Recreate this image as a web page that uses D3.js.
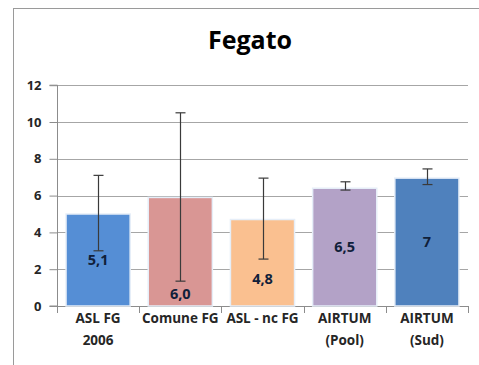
<!DOCTYPE html>
<html><head><meta charset="utf-8">
<script src="https://cdn.jsdelivr.net/npm/d3@7"></script>
<style>
html,body{margin:0;padding:0;background:#fff;}
svg{display:block;}
</style></head>
<body>
<script>
const categories = [["ASL FG","2006"],["Comune FG"],["ASL - nc FG"],["AIRTUM","(Pool)"],["AIRTUM","(Sud)"]];
const values = [5.0, 5.9, 4.7, 6.4, 6.95];
const errLow = [3.0, 1.35, 2.55, 6.3, 6.6];
const errHigh = [7.1, 10.5, 6.95, 6.75, 7.45];
const valueLabels = ["5,1","6,0","4,8","6,5","7"];
const yTicks = [0,2,4,6,8,10,12];
const title = "Fegato";
const colors = ["#558ed5","#d99694","#fac090","#b3a2c7","#4f81bd"];

const W = 479, H = 365;
const svg = d3.select("body").append("svg").attr("width", W).attr("height", H);
const font = "'Open Sans', sans-serif";

// frame
svg.append("rect").attr("x",13.5).attr("y",8.5).attr("width",W).attr("height",H)
  .attr("fill","#fff").attr("stroke","#9a9a9a").attr("stroke-width",1);

const x0 = 57, x1 = 468, y0 = 306, yTop = 85.2;
const x = d3.scaleBand().domain(d3.range(categories.length)).range([x0, x1]).paddingInner(0.22).paddingOuter(0.11);
const y = d3.scaleLinear().domain([0,12]).range([y0, yTop]);

// gridlines
svg.append("g").selectAll("line").data(yTicks.filter(d=>d>0)).join("line")
  .attr("x1",x0).attr("x2",x1).attr("y1",d=>Math.round(y(d))+0.5).attr("y2",d=>Math.round(y(d))+0.5)
  .attr("stroke","#a6a6a6").attr("stroke-width",1);

// y axis
const yAxis = d3.axisLeft(y).tickValues(yTicks).tickSize(8).tickPadding(8).tickFormat(d3.format("d"));
const gy = svg.append("g").attr("transform",`translate(${x0+0.5},0)`).call(yAxis);
gy.select(".domain").attr("stroke","#8c8c8c").attr("d",`M-8,${y0}H0V${yTop}H-8`);
gy.selectAll(".tick line").attr("stroke","#8c8c8c");
gy.selectAll(".tick text").attr("font-family",font).attr("font-weight","bold").attr("font-size",13).attr("fill","#262626");

// x axis baseline and ticks
const xb = svg.append("g");
xb.append("line").attr("x1",x0).attr("x2",x1).attr("y1",y0+0.5).attr("y2",y0+0.5).attr("stroke","#8c8c8c");
xb.selectAll("line.t").data(d3.range(categories.length+1)).join("line").attr("class","t")
  .attr("x1",i=>Math.round(x0 + i*(x1-x0)/categories.length)+0.5)
  .attr("x2",i=>Math.round(x0 + i*(x1-x0)/categories.length)+0.5)
  .attr("y1",y0).attr("y2",y0+7).attr("stroke","#8c8c8c");

// bars
svg.append("g").selectAll("rect").data(values).join("rect")
  .attr("x",(d,i)=>x(i)).attr("width",x.bandwidth())
  .attr("y",d=>y(d)).attr("height",d=>y(0)-y(d))
  .attr("fill",(d,i)=>colors[i]).attr("stroke","#e6eef8").attr("stroke-width",1.5);

// error bars
const eg = svg.append("g").attr("stroke","#3a3a3a").attr("stroke-width",1.2);
values.forEach((v,i)=>{
  const cx = Math.round(x(i)+x.bandwidth()/2)+0.5;
  eg.append("line").attr("x1",cx).attr("x2",cx).attr("y1",y(errLow[i])).attr("y2",y(errHigh[i]));
  [errLow[i],errHigh[i]].forEach(e=>{
    eg.append("line").attr("x1",cx-5).attr("x2",cx+5).attr("y1",y(e)).attr("y2",y(e));
  });
});

// value labels (centered in bar, some shifted down to avoid error bars)
const labelShift = [0, 42, 16, 0, 0];
svg.append("g").selectAll("text").data(values).join("text")
  .attr("x",(d,i)=>x(i)+x.bandwidth()/2)
  .attr("y",(d,i)=>y(d/2)+labelShift[i])
  .attr("dy","0.35em").attr("text-anchor","middle")
  .attr("font-family",font).attr("font-weight","bold").attr("font-size",14.5)
  .attr("fill","#10203a").text((d,i)=>valueLabels[i]);

// category labels
const cl = svg.append("g");
categories.forEach((lines,i)=>{
  const t = cl.append("text").attr("text-anchor","middle")
    .attr("font-family",font).attr("font-weight","bold").attr("font-size",13.5).attr("fill","#262626");
  lines.forEach((s,j)=>{
    t.append("tspan").attr("x",x(i)+x.bandwidth()/2).attr("y",323+j*22).text(s);
  });
});

// title
svg.append("text").attr("x",250).attr("y",49).attr("text-anchor","middle")
  .attr("font-family",font).attr("font-weight","bold").attr("font-size",25)
  .attr("fill","#000").text(title);
</script>
</body></html>
